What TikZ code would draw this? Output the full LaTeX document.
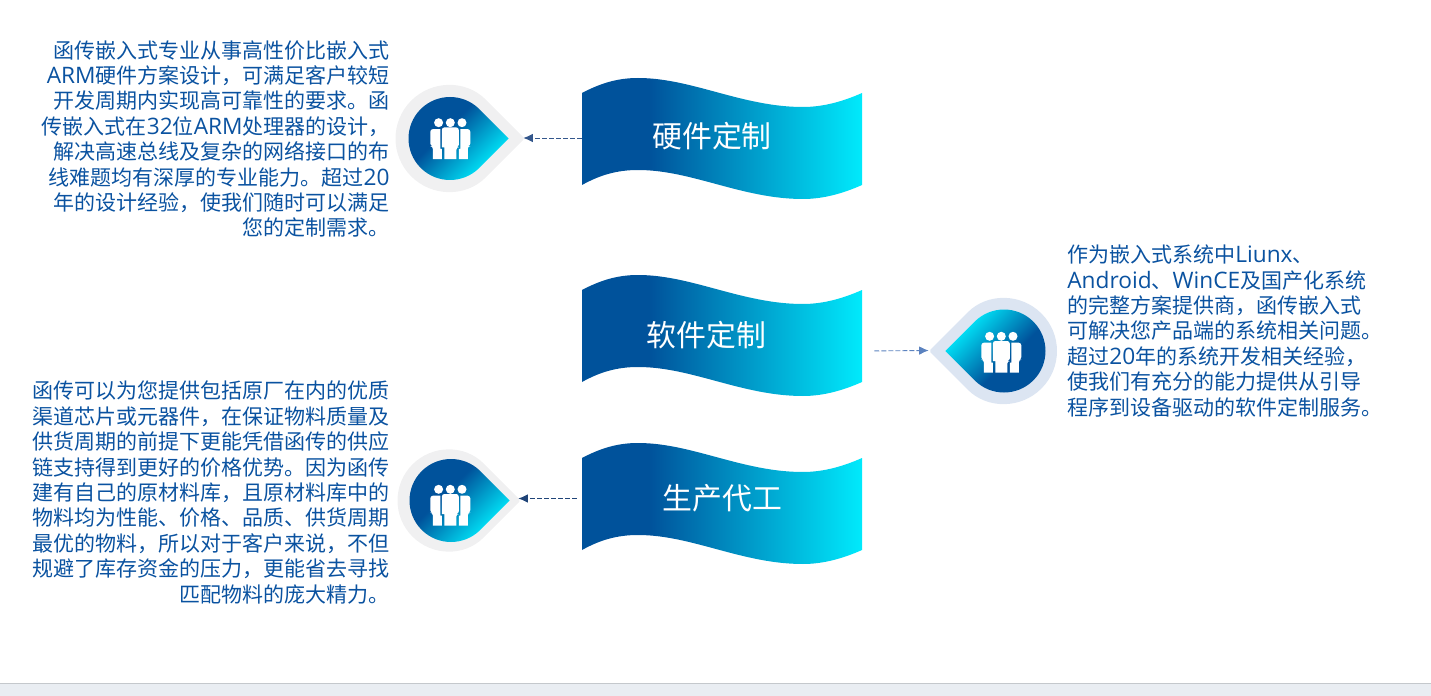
\documentclass[tikz,border=0pt]{standalone}
\usepackage{fontspec}
\setmainfont{Noto Sans CJK SC}
\newfontfamily\latinfont[Scale=1.08]{Open Sans}
\newcommand{\en}[1]{{\latinfont #1}}
\usetikzlibrary{arrows.meta}

\definecolor{deepblue}{HTML}{00529B}
\definecolor{brightcyan}{HTML}{00EAFC}
\definecolor{bodyblue}{HTML}{0A52A0}
\definecolor{footerfill}{HTML}{E9EDF2}
\definecolor{footerline}{HTML}{C4C8CC}
\definecolor{ringgray}{HTML}{F0F0F1}
\definecolor{ringblue}{HTML}{DCE5F2}
\definecolor{flowhard}{HTML}{34578C}
\definecolor{flowsoft}{HTML}{5B82BF}
\definecolor{flowmake}{HTML}{1F4478}

\pgfdeclarehorizontalshading{bandfade}{100bp}{color(0bp)=(deepblue); color(37bp)=(deepblue); color(75bp)=(brightcyan); color(100bp)=(brightcyan)}
\pgfdeclarehorizontalshading{pinfade}{100bp}{color(0bp)=(deepblue); color(43bp)=(deepblue); color(72bp)=(brightcyan); color(100bp)=(brightcyan)}

\tikzset{
  bodytext/.style={inner sep=0pt,text=bodyblue,align=#1,font=\fontsize{11.95}{14.45}\selectfont},
  bandtext/.style={inner sep=0pt,text=white,font=\fontsize{17}{20}\selectfont},
  bandbox/.style={minimum width=5.6cm,minimum height=1.84cm,inner sep=0pt},
  pinbox/.style={minimum width=2.92cm,minimum height=2.1cm,inner sep=0pt},
  flow/.style={-{Latex[length=1.9mm,width=1.7mm]},dash pattern=on 2.8pt off 1.2pt,line width=0.5pt},
}

% wave band, #1 = top left corner
\newcommand{\waveband}[1]{
  \shade[shading=bandfade,shift={(#1)}] (0,0) .. controls (18,-9.5) and (35,-15) .. (56,-15)
    .. controls (110,-15) and (160,14) .. (221,14) .. controls (242,14) and (262,8) .. (280,0)
    -- (280,92) .. controls (262,100) and (242,106) .. (221,106) .. controls (160,106) and (110,77) .. (56,77)
    .. controls (35,77) and (18,82) .. (0,92) -- cycle;
}

% drop with ring, #1 = centre, #2 = rotation, #3 = ring colour, #4 = shading angle, #5 = ring radius, #6 = ring offset
\newcommand{\droppin}[6]{
  \begin{scope}[shift={(#1)},rotate=#2]
    \fill[#3,shift={(#6,0)},rounded corners=1pt] (45:#5) arc[start angle=45,end angle=315,radius=#5] -- ({#5*1.414},0) -- cycle;
    \shade[shading=pinfade,shading angle=#4] (45:41.5) arc[start angle=45,end angle=315,radius=41.5] -- (58.7,0) -- cycle;
  \end{scope}
}

% three people, #1 = centre
\newcommand{\peopleicon}[1]{
  \begin{scope}[shift={(#1)},white]
    \foreach \hx in {-11.7,0,11.7} \fill (\hx,-15.7) circle (4.5);
    \fill[rounded corners=1.5pt] (-8.5,9) -- (-8.5,-11) -- (8.5,-11) -- (8.5,9) -- (6,9) [sharp corners] -- (6,20.7) -- (-6,20.7) -- (-6,9) -- cycle;
    \foreach \sx in {-1,1}
      \fill[xscale=\sx,rounded corners=1.5pt] (10,-9.3) -- (20,-9.3) -- (20,7.7) -- (17.5,7.7) [sharp corners] -- (17.5,20.7) -- (8.5,20.7) -- (8.5,10.5) -- (10,10.5) -- cycle;
  \end{scope}
}

\begin{document}
\begin{tikzpicture}[x=0.02cm,y=-0.02cm]
  \useasboundingbox (0,0) rectangle (1431,696);

  % footer strip
  \fill[footerfill] (0,684) rectangle (1431,696);
  \draw[footerline,line width=0.6pt] (0,683.5) -- (1431,683.5);

  % Bands
  \waveband{582,93}
  \waveband{582,290}
  \waveband{582,458}
  \node[bandbox] (hardband) at (722,138) {};
  \node[bandbox] (softband) at (722,351) {};
  \node[bandbox] (makeband) at (722,498.5) {};
  \node[bandtext] (hardtext) at (712,136) {硬件定制};
  \node[bandtext] (softtext) at (706.5,335) {软件定制};
  \node[bandtext] (maketext) at (722.5,498) {生产代工};

  % Pins
  \droppin{450,138.5}{0}{ringgray}{-45}{53.5}{-1}
  \droppin{1004,351}{180}{ringblue}{135}{53}{0}
  \droppin{451,500.5}{0}{ringgray}{-45}{51}{-2.5}
  \peopleicon{450.3,138.4}
  \peopleicon{1001.3,352}
  \peopleicon{450.3,505}
  \node[pinbox] (hardpin) at (450,138) {};
  \node[pinbox] (softpin) at (1002,350.5) {};
  \node[pinbox] (makepin) at (445,498.5) {};

  % Arrows
  \draw[flow,color=flowhard] (hardband.west) -- (hardpin.east);
  \draw[flow,color=flowsoft,shorten <=0.24cm] (softband.east) -- (softpin.west);
  \draw[flow,color=flowmake,shorten <=0.1cm] (makeband.west) -- (makepin.east);

  % Texts
  \node[bodytext=right,anchor=east] (hardnote) at (390,139) {函传嵌入式专业从事高性价比嵌入式\\
    \en{ARM}硬件方案设计，可满足客户较短\\
    开发周期内实现高可靠性的要求。函\\
    传嵌入式在\en{32}位\en{ARM}处理器的设计，\\
    解决高速总线及复杂的网络接口的布\\
    线难题均有深厚的专业能力。超过\en{20}\\
    年的设计经验，使我们随时可以满足\\
    您的定制需求。};
  \node[bodytext=left,anchor=west] (softnote) at (1067,331) {作为嵌入式系统中\en{Liunx}、\\
    \en{Android}、\en{WinCE}及国产化系统\\
    的完整方案提供商，函传嵌入式\\
    可解决您产品端的系统相关问题。\\
    超过\en{20}年的系统开发相关经验，\\
    使我们有充分的能力提供从引导\\
    程序到设备驱动的软件定制服务。};
  \node[bodytext=right,anchor=east] (makenote) at (390,492.5) {函传可以为您提供包括原厂在内的优质\\
    渠道芯片或元器件，在保证物料质量及\\
    供货周期的前提下更能凭借函传的供应\\
    链支持得到更好的价格优势。因为函传\\
    建有自己的原材料库，且原材料库中的\\
    物料均为性能、价格、品质、供货周期\\
    最优的物料，所以对于客户来说，不但\\
    规避了库存资金的压力，更能省去寻找\\
    匹配物料的庞大精力。};
\end{tikzpicture}
\end{document}
